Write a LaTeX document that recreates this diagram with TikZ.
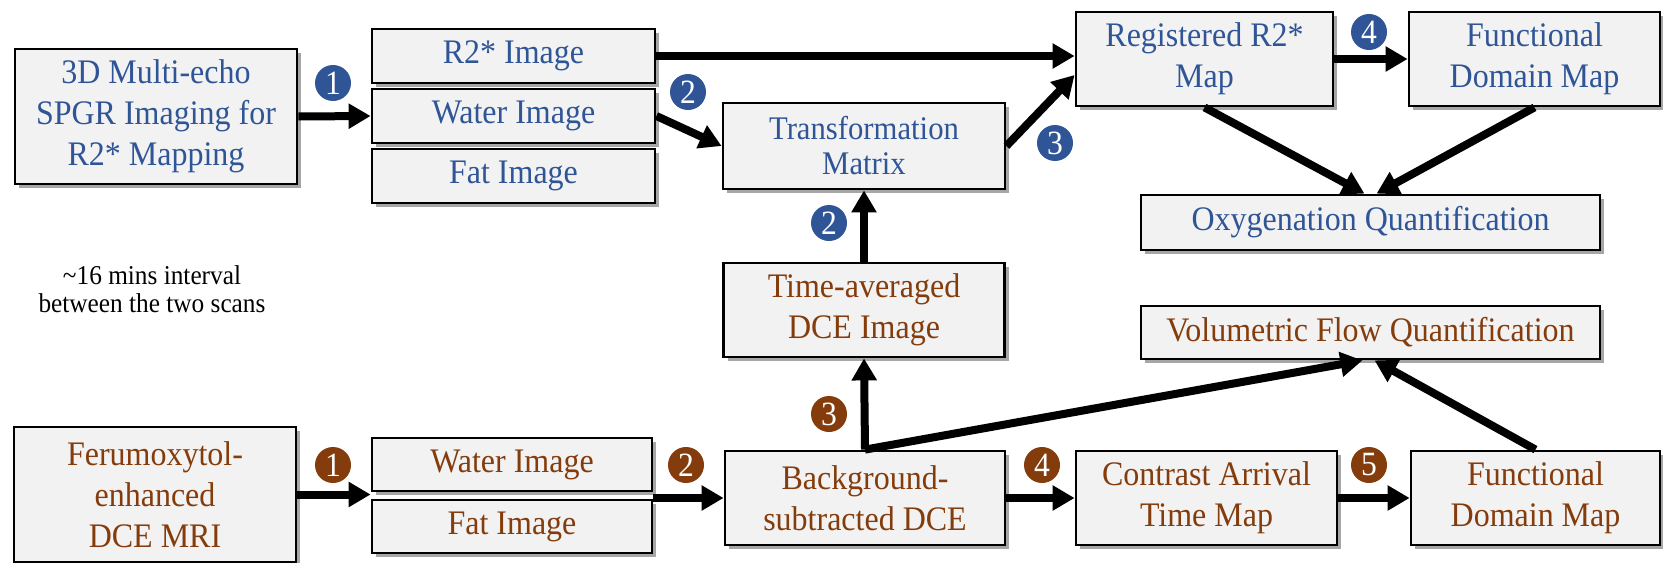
\documentclass[tikz,border=0pt]{standalone}
\usepackage{fontspec}
\setmainfont{Liberation Serif}[FakeStretch=0.93]
\usetikzlibrary{arrows.meta,shadows}

\definecolor{mriblue}{HTML}{2F5597}
\definecolor{dcebrown}{HTML}{843C0C}
\definecolor{panel}{HTML}{F2F2F2}

\begin{document}
\begin{tikzpicture}[x=0.5pt, y=-0.5pt,
    process/.style ={draw, line width=1.4pt, fill=panel, align=center, inner sep=0pt,
      drop shadow={shadow xshift=2pt, shadow yshift=-2pt, fill=black, opacity=0.35},
      font=\fontsize{17.2}{20.5}\selectfont},
    badge/.style ={circle, inner sep=0pt, minimum size=18pt, text=white,
      font=\fontsize{17}{17}\selectfont},
    flow/.style ={line width=4pt, -{Triangle[length=11pt,width=12pt]}}]
   \useasboundingbox (0,0) rectangle (1663,562);

   % R2* acquisition and registration
   \node[process, text=mriblue, minimum width=141pt, minimum height=67.5pt] (mri3d) at (156,116.5)
     {3D Multi-echo\\SPGR Imaging for\\R2* Mapping};
   \node[process, text=mriblue, minimum width=141.5pt, minimum height=27pt] (r2img) at (513.5,56) {R2* Image};
   \node[process, text=mriblue, minimum width=141.5pt, minimum height=27pt] (watera) at (513.5,116) {Water Image};
   \node[process, text=mriblue, minimum width=141.5pt, minimum height=27pt] (fata) at (513.5,176) {Fat Image};
   \node[process, text=mriblue, minimum width=141pt, minimum height=43pt,
     font=\fontsize{16.5}{17.5}\selectfont] (trans) at (864,146) {Transformation\\Matrix};
   \node[process, text=mriblue, minimum width=128.5pt, minimum height=47pt] (reg) at (1204.5,59)
     {Registered R2*\\Map};
   \node[process, text=mriblue, minimum width=125.5pt, minimum height=47pt] (funca) at (1534.5,59)
     {Functional\\Domain Map};
   \node[process, text=mriblue, minimum width=229.5pt, minimum height=27.5pt] (oxy) at (1370.5,222.5)
     {Oxygenation Quantification};

   % DCE acquisition and flow
   \node[process, text=dcebrown, minimum width=141pt, minimum height=67.5pt] (ferum) at (155,494.5)
     {Ferumoxytol-\\enhanced\\DCE MRI};
   \node[process, text=dcebrown, minimum width=140pt, minimum height=26.5pt] (waterb) at (512,464.5) {Water Image};
   \node[process, text=dcebrown, minimum width=140pt, minimum height=26.5pt] (fatb) at (512,526.5) {Fat Image};
   \node[process, text=dcebrown, minimum width=140pt, minimum height=47pt] (bgsub) at (865,498)
     {Background-\\subtracted DCE};
   \node[process, text=dcebrown, minimum width=140.5pt, minimum height=47pt] (avg) at (864,310)
     {Time-averaged\\DCE Image};
   \node[process, text=dcebrown, minimum width=130.5pt, minimum height=47pt] (contrast) at (1206.5,498)
     {Contrast Arrival\\Time Map};
   \node[process, text=dcebrown, minimum width=124.5pt, minimum height=47pt] (funcb) at (1535.5,498)
     {Functional\\Domain Map};
   \node[process, text=dcebrown, minimum width=229.5pt, minimum height=26.5pt] (vol) at (1370.5,332.5)
     {Volumetric Flow Quantification};

   \node[align=center, font=\fontsize{13.6}{14}\selectfont] (gap) at (152,289)
     {\textasciitilde16 mins interval\\between the two scans};

   % step numbers
   \node[badge, fill=mriblue] (s1a) at (333,83) {1};
   \node[badge, fill=mriblue] (s2a) at (688,92) {2};
   \node[badge, fill=mriblue] (s2v) at (829,223) {2};
   \node[badge, fill=mriblue] (s3a) at (1055,143) {3};
   \node[badge, fill=mriblue] (s4a) at (1369,32) {4};
   \node[badge, fill=dcebrown] (s1b) at (333,465) {1};
   \node[badge, fill=dcebrown] (s2b) at (686,465) {2};
   \node[badge, fill=dcebrown] (s3b) at (829,414) {3};
   \node[badge, fill=dcebrown] (s4b) at (1042,465) {4};
   \node[badge, fill=dcebrown] (s5b) at (1369,465) {5};

   \draw[flow] (mri3d.east) to (watera.west);
   \draw[flow] (r2img.east) to (r2img.east -| reg.west);
   \draw[flow] (watera.east) to (trans.west);
   \draw[flow] (trans.east) to ([yshift=-8pt]reg.west);
   \draw[flow] (reg.east |- funca.west) to (funca.west);
   \draw[flow] (reg.south) to ([xshift=-3pt]oxy.north);
   \draw[flow] (funca.south) to ([xshift=3pt]oxy.north);
   \draw[flow] (avg.north) to (trans.south);

   \draw[flow] (ferum.east) to (ferum.east -| waterb.west);
   \draw[flow] (bgsub.west -| waterb.east) to (bgsub.west);
   \draw[flow] (bgsub.north) to (avg.south);
   \draw[flow] (bgsub.north) to ([xshift=-4pt]vol.south);
   \draw[flow] (bgsub.east) to (contrast.west);
   \draw[flow] (contrast.east) to (funcb.west);
   \draw[flow] (funcb.north) to ([xshift=2pt]vol.south);
 \end{tikzpicture}
\end{document}
